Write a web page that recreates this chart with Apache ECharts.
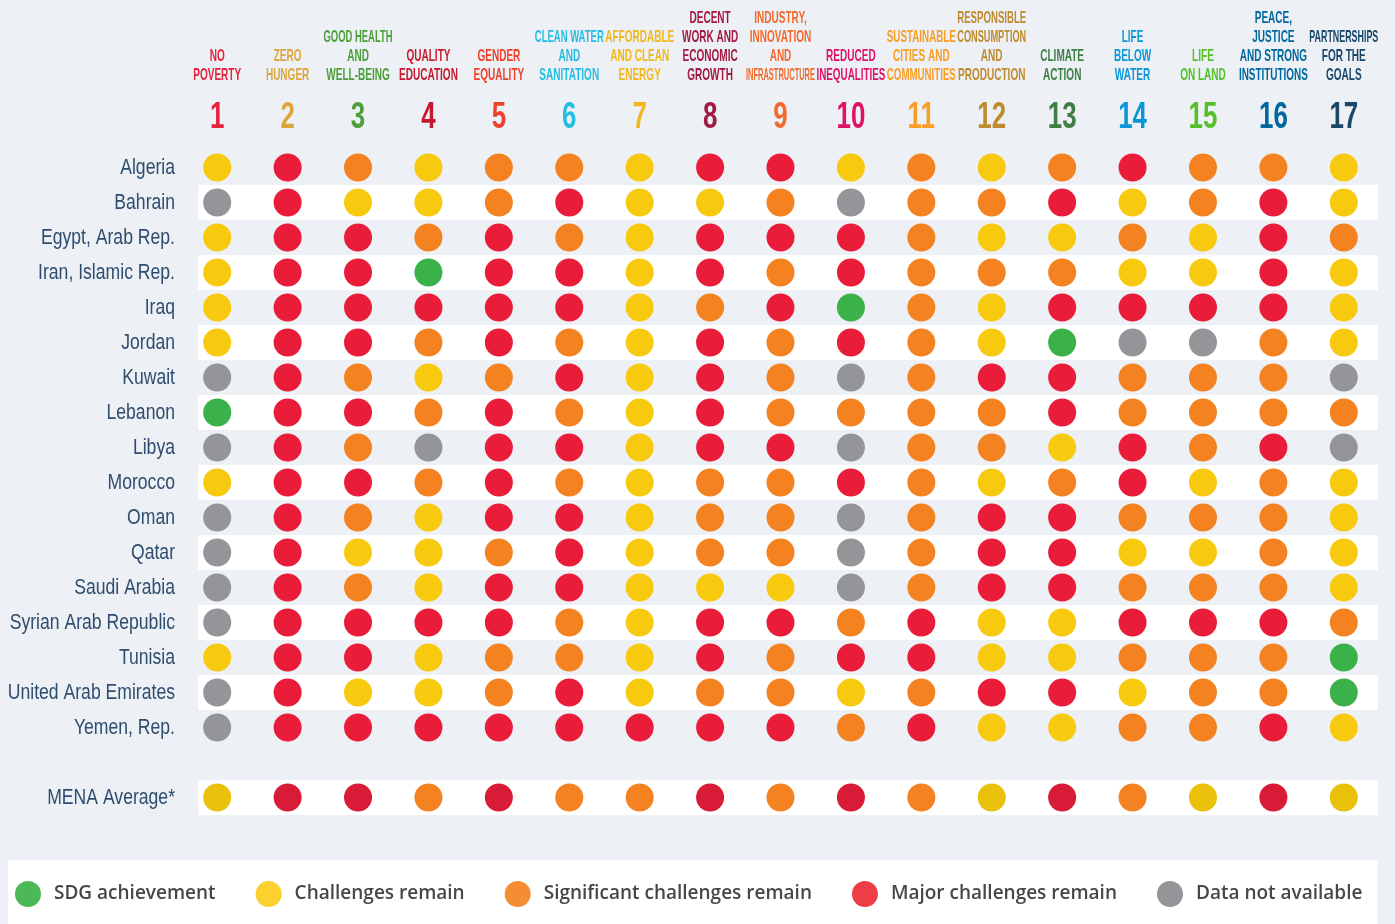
<!DOCTYPE html>
<html>
<head>
<meta charset="utf-8">
<title>SDG dashboard - MENA</title>
<script src="https://cdn.jsdelivr.net/npm/echarts@6/dist/echarts.min.js"></script>
<style>
  html, body { margin: 0; padding: 0; background: #edf0f5; }
  #chart { width: 1395px; height: 924px; }
</style>
</head>
<body>
<div id="chart"></div>
<script>
  // goal numbers (x axis) and header names
  const goals = ['1', '2', '3', '4', '5', '6', '7', '8', '9', '10', '11', '12', '13', '14', '15', '16', '17']
  const goalNames = [
    'NO\nPOVERTY', 'ZERO\nHUNGER', 'GOOD HEALTH\nAND\nWELL-BEING', 'QUALITY\nEDUCATION',
    'GENDER\nEQUALITY', 'CLEAN WATER\nAND\nSANITATION', 'AFFORDABLE\nAND CLEAN\nENERGY',
    'DECENT\nWORK AND\nECONOMIC\nGROWTH', 'INDUSTRY,\nINNOVATION\nAND\nINFRASTRUCTURE',
    'REDUCED\nINEQUALITIES', 'SUSTAINABLE\nCITIES AND\nCOMMUNITIES',
    'RESPONSIBLE\nCONSUMPTION\nAND\nPRODUCTION', 'CLIMATE\nACTION', 'LIFE\nBELOW\nWATER',
    'LIFE\nON LAND', 'PEACE,\nJUSTICE\nAND STRONG\nINSTITUTIONS', 'PARTNERSHIPS\nFOR THE\nGOALS'
  ]
  const goalColors = ['#e5243b', '#dda63a', '#4c9f38', '#c5192d', '#ef402b', '#26bde2', '#f0b81c', '#a21942', '#f26a2d',
    '#dd1367', '#f99d26', '#bf8b2e', '#3f7e44', '#0a97d9', '#56c02b', '#00689d', '#19486a']

  // rows (y axis)
  const countries = ['Algeria', 'Bahrain', 'Egypt, Arab Rep.', 'Iran, Islamic Rep.', 'Iraq', 'Jordan', 'Kuwait',
    'Lebanon', 'Libya', 'Morocco', 'Oman', 'Qatar', 'Saudi Arabia', 'Syrian Arab Republic', 'Tunisia',
    'United Arab Emirates', 'Yemen, Rep.']
  const averageLabel = 'MENA Average*'

  // G = achieved, Y = challenges, O = significant, R = major, N = no data
  const algeria = ['Y', 'R', 'O', 'Y', 'O', 'O', 'Y', 'R', 'R', 'Y', 'O', 'Y', 'O', 'R', 'O', 'O', 'Y']
  const bahrain = ['N', 'R', 'Y', 'Y', 'O', 'R', 'Y', 'Y', 'O', 'N', 'O', 'O', 'R', 'Y', 'O', 'R', 'Y']
  const egypt = ['Y', 'R', 'R', 'O', 'R', 'O', 'Y', 'R', 'R', 'R', 'O', 'Y', 'Y', 'O', 'Y', 'R', 'O']
  const iran = ['Y', 'R', 'R', 'G', 'R', 'R', 'Y', 'R', 'O', 'R', 'O', 'O', 'O', 'Y', 'Y', 'R', 'Y']
  const iraq = ['Y', 'R', 'R', 'R', 'R', 'R', 'Y', 'O', 'R', 'G', 'O', 'Y', 'R', 'R', 'R', 'R', 'Y']
  const jordan = ['Y', 'R', 'R', 'O', 'R', 'O', 'Y', 'R', 'O', 'R', 'O', 'Y', 'G', 'N', 'N', 'O', 'Y']
  const kuwait = ['N', 'R', 'O', 'Y', 'O', 'R', 'Y', 'R', 'O', 'N', 'O', 'R', 'R', 'O', 'O', 'O', 'N']
  const lebanon = ['G', 'R', 'R', 'O', 'R', 'O', 'Y', 'R', 'O', 'O', 'O', 'O', 'R', 'O', 'O', 'O', 'O']
  const libya = ['N', 'R', 'O', 'N', 'R', 'R', 'Y', 'R', 'R', 'N', 'O', 'O', 'Y', 'R', 'O', 'R', 'N']
  const morocco = ['Y', 'R', 'R', 'O', 'R', 'O', 'Y', 'O', 'O', 'R', 'O', 'Y', 'O', 'R', 'Y', 'O', 'Y']
  const oman = ['N', 'R', 'O', 'Y', 'R', 'R', 'Y', 'O', 'O', 'N', 'O', 'R', 'R', 'O', 'O', 'O', 'Y']
  const qatar = ['N', 'R', 'Y', 'Y', 'O', 'R', 'Y', 'O', 'O', 'N', 'O', 'R', 'R', 'Y', 'Y', 'O', 'Y']
  const saudiArabia = ['N', 'R', 'O', 'Y', 'R', 'R', 'Y', 'Y', 'Y', 'N', 'O', 'R', 'R', 'O', 'O', 'O', 'Y']
  const syria = ['N', 'R', 'R', 'R', 'R', 'O', 'Y', 'R', 'R', 'O', 'R', 'Y', 'Y', 'R', 'R', 'R', 'O']
  const tunisia = ['Y', 'R', 'R', 'Y', 'O', 'O', 'Y', 'R', 'O', 'R', 'R', 'Y', 'Y', 'O', 'O', 'O', 'G']
  const uae = ['N', 'R', 'Y', 'Y', 'O', 'R', 'Y', 'O', 'O', 'Y', 'O', 'R', 'R', 'Y', 'O', 'O', 'G']
  const yemen = ['N', 'R', 'R', 'R', 'R', 'R', 'R', 'R', 'R', 'O', 'R', 'Y', 'Y', 'O', 'O', 'R', 'Y']
  const menaAverage = ['Y', 'R', 'R', 'O', 'R', 'O', 'O', 'R', 'O', 'R', 'O', 'Y', 'R', 'O', 'Y', 'R', 'Y']

  const countryRatings = [algeria, bahrain, egypt, iran, iraq, jordan, kuwait, lebanon, libya, morocco,
    oman, qatar, saudiArabia, syria, tunisia, uae, yemen]

  const statusCodes = ['G', 'Y', 'O', 'R', 'N']
  const statusNames = ['SDG achievement', 'Challenges remain', 'Significant challenges remain',
    'Major challenges remain', 'Data not available']
  const dotColors = ['#3bb14a', '#f7ca0f', '#f48221', '#e91c39', '#939598']
  const averageColors = ['#3bb14a', '#e9c10b', '#f48221', '#d81b37', '#939598']
  const legendColors = ['#4db858', '#fcd02e', '#f58e33', '#ee3e45', '#939598']

  function hasFont(name) {
    const c = document.createElement('canvas').getContext('2d')
    c.font = '40px monospace'
    const a = c.measureText('abcdefghijklmnop').width
    c.font = '40px "' + name + '", monospace'
    return c.measureText('abcdefghijklmnop').width !== a
  }
  const narrow = hasFont('Liberation Sans Narrow')
  const condFont = narrow ? '"Liberation Sans Narrow", "Liberation Sans", sans-serif' : '"Liberation Sans", sans-serif'
  const squeeze = narrow ? 1.2 : 1

  const measureCtx = document.createElement('canvas').getContext('2d')
  function textWidth(text, font) {
    measureCtx.font = font
    return measureCtx.measureText(text).width
  }

  const rowLabels = countries.concat(['', averageLabel])
  const averageRow = rowLabels.length - 1
  const allRows = countryRatings.slice()
  allRows[averageRow] = menaAverage

  // white stripes: every other country plus the average row
  const stripeRows = countries.map((c, i) => i).filter(i => i % 2 === 1).concat([averageRow])

  const dotSeries = statusCodes.map((code, s) => {
    const data = []
    allRows.forEach((ratings, r) => {
      if (!ratings) return
      ratings.forEach((v, g) => {
        if (v !== code) return
        const item = { value: [g, r] }
        if (r === averageRow) item.itemStyle = { color: averageColors[s] }
        data.push(item)
      })
    })
    return {
      name: statusNames[s],
      type: 'scatter',
      symbol: 'circle',
      symbolSize: 28,
      itemStyle: { color: dotColors[s], opacity: 1 },
      z: 3,
      data: data
    }
  })

  const chart = echarts.init(document.getElementById('chart'))

  chart.setOption({
    backgroundColor: '#edf0f5',
    animation: false,
    grid: { left: 182, right: 16, top: 150, height: 665 },
    xAxis: {
      type: 'category',
      position: 'top',
      data: goals,
      axisLine: { show: false },
      axisTick: { show: false },
      splitLine: { show: false },
      axisLabel: { show: false }
    },
    yAxis: {
      type: 'category',
      inverse: true,
      data: rowLabels,
      axisLine: { show: false },
      axisTick: { show: false },
      splitLine: { show: false },
      axisLabel: { show: false }
    },
    legend: {
      left: 8,
      top: 860,
      width: 1380,
      backgroundColor: '#ffffff',
      padding: [21, 15, 21, 7],
      icon: 'circle',
      itemWidth: 26,
      itemHeight: 26,
      itemGap: 40,
      selectedMode: false,
      textStyle: {
        fontFamily: '"Open Sans", sans-serif',
        fontWeight: 600,
        fontSize: 19,
        color: '#474747',
        padding: [0, 0, 0, 8]
      },
      data: statusNames.map((n, i) => ({ name: n, itemStyle: { color: legendColors[i] } }))
    },
    series: [{
      type: 'custom',
      silent: true,
      z: 1,
      data: stripeRows.map(r => [0, r]),
      renderItem: function (params, api) {
        const cs = params.coordSys
        const p = api.coord([0, api.value(1)])
        const colW = api.size([1, 0])[0]
        const rowH = api.size([0, 1])[1]
        const x0 = p[0] - colW * 0.27
        return {
          type: 'rect',
          shape: { x: x0, y: p[1] - rowH / 2, width: cs.x + cs.width - x0 - 1, height: rowH },
          style: { fill: '#ffffff' }
        }
      }
    }].concat(dotSeries)
  })

  // header and row labels drawn as squeezed text, placed from the axes
  const colX = goals.map(g => chart.convertToPixel({ xAxisIndex: 0 }, g))
  const colW = colX[1] - colX[0]
  const rowY = rowLabels.map(r => chart.convertToPixel({ yAxisIndex: 0 }, r))
  const nameFont = 'bold 17px ' + condFont
  const numFont = 'bold 36px ' + condFont
  const rowFont = '22px ' + condFont

  const headerNames = []
  goalNames.forEach((name, i) => {
    const lines = name.split('\n')
    lines.forEach((line, k) => {
      const sx = Math.min(0.59 * squeeze, 69 / textWidth(line, nameFont))
      headerNames.push({
        type: 'text', x: colX[i], y: 75 - (lines.length - 1 - k) * 19, scaleX: sx, silent: true,
        style: { text: line, fill: goalColors[i], font: nameFont, align: 'center', verticalAlign: 'middle' }
      })
    })
  })
  const headerNums = goals.map((g, i) => ({
    type: 'text', x: colX[i], y: 118, scaleX: 0.72 * squeeze, silent: true,
    style: { text: g, fill: goalColors[i], font: numFont, align: 'center', verticalAlign: 'middle' }
  }))
  const rowTexts = rowLabels.map((r, i) => ({
    type: 'text', x: colX[0] - colW / 2 - 7, y: rowY[i], scaleX: 0.8 * squeeze, silent: true,
    style: { text: r, fill: '#2f4d6f', font: rowFont, align: 'right', verticalAlign: 'middle' }
  }))

  chart.setOption({ graphic: headerNames.concat(headerNums, rowTexts) })
</script>
</body>
</html>
